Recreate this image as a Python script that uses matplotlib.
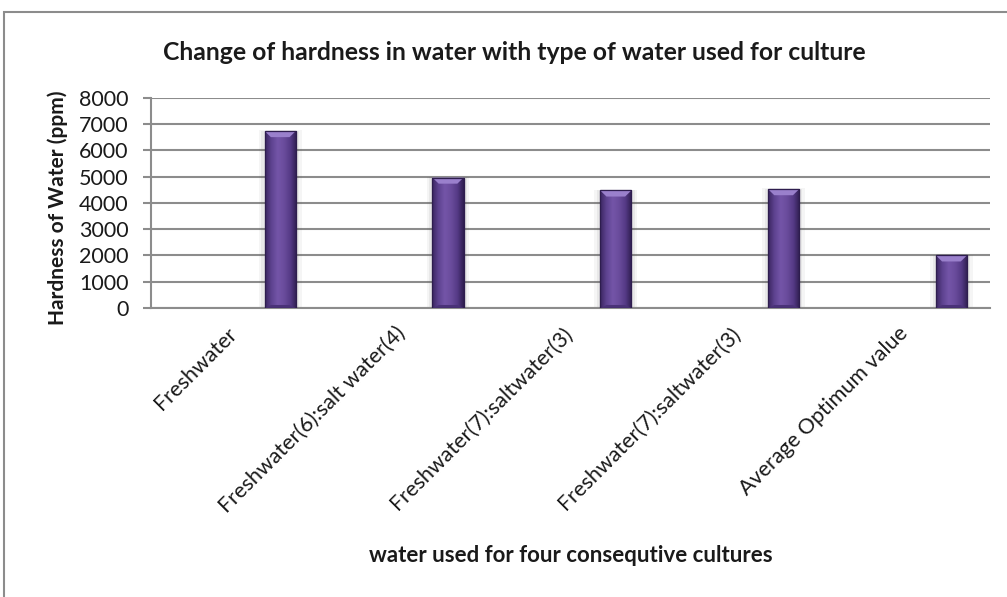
import matplotlib
matplotlib.use("Agg")
import matplotlib.pyplot as plt
import matplotlib.transforms as mtransforms
import numpy as np
from matplotlib.colors import LinearSegmentedColormap
from matplotlib.patches import Polygon, Rectangle

# Data
categories = [
    "Freshwater",
    "Freshwater(6):salt water(4)",
    "Freshwater(7):saltwater(3)",
    "Freshwater(7):saltwater(3)",
    "Average Optimum value",
]
hardness_ppm = [6730, 4960, 4470, 4520, 2000]
y_ticks = [0, 1000, 2000, 3000, 4000, 5000, 6000, 7000, 8000]

title = "Change of hardness in water with type of water used for culture"
x_title = "water used for four consequtive cultures"
y_title = "Hardness of Water (ppm)"

plt.rcParams["font.family"] = ["Lato", "DejaVu Sans"]

W, H = 1007, 597
fig = plt.figure(figsize=(W / 100, H / 100), dpi=100)
fig.patch.set_facecolor("white")

grid_col = "#8c8c8c"

# chart-area border
fig.patches.append(Rectangle((4 / W, -0.1), 1.2, 1 - 12 / H + 0.1,
                             transform=fig.transFigure, fill=False,
                             edgecolor=grid_col, linewidth=1.5, zorder=0))

ax = fig.add_axes([151 / W, 1 - 308 / H, (990 - 151) / W, (308 - 97.7) / H])
ax.set_facecolor("none")

x = np.arange(len(categories))
bar_w = 0.185
bar_off = 0.27

ax.set_xlim(-0.5, len(categories) - 0.5)
ax.set_ylim(0, 8000)
ax.set_yticks(y_ticks)
ax.set_yticklabels([str(v) for v in y_ticks], fontsize=15.5, color="#1a1a1a")
ax.yaxis.grid(True, color=grid_col, linewidth=1.5)
ax.set_axisbelow(True)

for s in ["top", "right"]:
    ax.spines[s].set_visible(False)
for s in ["left", "bottom"]:
    ax.spines[s].set_color(grid_col)
    ax.spines[s].set_linewidth(1.5)
ax.tick_params(axis="y", direction="out", length=6, width=1.5, color=grid_col, pad=10)
ax.tick_params(axis="x", length=0, pad=11)

ax.set_xticks(x)
ax.set_xticklabels(categories, rotation=45, ha="right", va="top",
                   rotation_mode="anchor", fontsize=15.5, color="#1a1a1a")
shift = mtransforms.ScaledTranslation(-8 / 100, 0, fig.dpi_scale_trans)
for lbl in ax.get_xticklabels():
    lbl.set_transform(lbl.get_transform() + shift)

# purple bars with horizontal shading and a bevelled top
cmap = LinearSegmentedColormap.from_list(
    "bar", ["#3a2560", "#5e4390", "#7455a8", "#6a4c9c", "#553a86", "#2e1d4e"])
grad = np.linspace(0, 1, 128).reshape(1, -1)

bars = ax.bar(x + bar_off, hardness_ppm, width=bar_w, color="#6a4c9c",
              edgecolor="#2e1d4e", linewidth=0.8, zorder=3)
for rect, v in zip(bars, hardness_ppm):
    x0, w = rect.get_x(), rect.get_width()
    # soft shadow
    for k, a in [(0.035, 0.06), (0.02, 0.08)]:
        ax.add_patch(Rectangle((x0 - k, -60), w + 2 * k, v + 60 + k * 800,
                               facecolor="#555555", alpha=a, edgecolor="none", zorder=2))
    im = ax.imshow(grad, extent=[x0, x0 + w, 0, v], aspect="auto", cmap=cmap,
                   zorder=3.5, interpolation="bicubic")
    im.set_clip_path(rect)
    bh = 230
    ins = w * 0.2
    ax.add_patch(Polygon([(x0, v), (x0 + w, v), (x0 + w - ins, v - bh), (x0 + ins, v - bh)],
                         closed=True, facecolor="#9a80cc", edgecolor="none", zorder=4))
    ax.add_patch(Polygon([(x0, 0), (x0 + w, 0), (x0 + w - ins, bh * 0.5), (x0 + ins, bh * 0.5)],
                         closed=True, facecolor="#4a3278", edgecolor="none", zorder=4))
    ax.add_patch(Rectangle((x0, 0), w, v, fill=False, edgecolor="#2e1d4e",
                           linewidth=0.9, zorder=4.5))

ax.set_xlim(-0.5, len(categories) - 0.5)
ax.set_ylim(0, 8000)

fig.text(514 / W, 1 - 52 / H, title, ha="center", va="center",
         fontsize=17.8, fontweight="bold", color="#1a1a1a")
fig.text(571 / W, 1 - 555 / H, x_title, ha="center", va="center",
         fontsize=16, fontweight="bold", color="#1a1a1a")
fig.text(58 / W, 1 - 208 / H, y_title, ha="center", va="center", rotation=90,
         fontsize=15, fontweight="bold", color="#1a1a1a")

fig.savefig("out.png", dpi=100)
